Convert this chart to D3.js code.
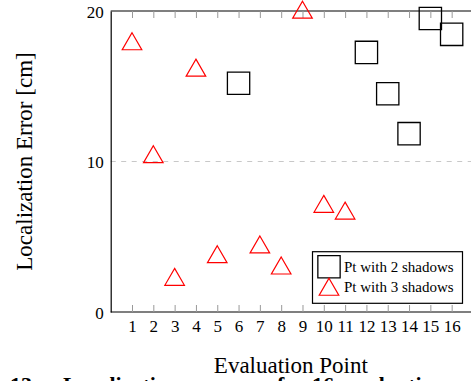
<!DOCTYPE html>
<html>
<head>
<meta charset="utf-8">
<script src="https://cdn.jsdelivr.net/npm/d3@7"></script>
<style>
  body { margin: 0; background: #fff; }
  svg { display: block; font-family: "Liberation Serif", "Times New Roman", serif; }
</style>
</head>
<body>
<div id="chart"></div>
<script>
// evaluation points and their localization errors (cm)
const xTicks = d3.range(1, 17);
const yTicks = [0, 10, 20];
const twoShadowPts = [6, 12, 13, 14, 15, 16];
const twoShadowErr = [15.2, 17.25, 14.5, 11.85, 19.5, 18.45];
const threeShadowPts = [1, 2, 3, 4, 5, 7, 8, 9, 10, 11];
const threeShadowErr = [17.8, 10.3, 2.15, 16.05, 3.65, 4.3, 2.9, 19.9, 7.0, 6.55];
const seriesNames = ['Pt with 2 shadows', 'Pt with 3 shadows'];
const captionWords = ['13:', 'Localization', 'error', 'for', '16', 'evaluation', 'points.'];

const width = 471, height = 381;
const margin = { top: 11, left: 110.7, bottom: 312 };

const svg = d3.select('#chart')
  .append('svg')
  .attr('width', width)
  .attr('height', height);

const x = d3.scaleLinear().domain([0, 17]).range([margin.left, margin.left + 17 * 21.31]);
const y = d3.scaleLinear().domain([0, 20]).range([margin.bottom, margin.top]);

// dashed grid at 10
svg.append('g')
  .selectAll('line')
  .data(yTicks.filter(t => t > 0 && t < 20))
  .enter()
  .append('line')
  .attr('x1', margin.left).attr('x2', width)
  .attr('y1', d => y(d)).attr('y2', d => y(d))
  .style('stroke', '#c8c8c8')
  .style('stroke-width', 1.1)
  .style('stroke-dasharray', '5,5.5');

// bottom axis with inward ticks
const xAxis = svg.append('g')
  .attr('transform', `translate(0,${margin.bottom})`)
  .call(d3.axisBottom(x).tickValues(xTicks).tickSizeInner(-7).tickSizeOuter(0).tickPadding(8));
xAxis.select('.domain').attr('d', `M${margin.left},0H${width}`).style('stroke', '#000').style('stroke-width', 1.2);
xAxis.selectAll('.tick line').style('stroke', '#999');
xAxis.selectAll('.tick text')
  .style('font-family', '"Liberation Serif", serif')
  .style('font-size', '17px')
  .style('fill', '#000');

// top frame with inward ticks
const xTop = svg.append('g')
  .attr('transform', `translate(0,${margin.top})`)
  .call(d3.axisTop(x).tickValues(xTicks).tickSizeInner(-7).tickSizeOuter(0).tickFormat(''));
xTop.select('.domain').attr('d', `M${margin.left},0H${width}`).style('stroke', '#000').style('stroke-width', 1.2);
xTop.selectAll('.tick line').style('stroke', '#999');

// left axis
const yAxis = svg.append('g')
  .attr('transform', `translate(${margin.left},0)`)
  .call(d3.axisLeft(y).tickValues(yTicks).tickSize(0).tickPadding(7));
yAxis.select('.domain').style('stroke', '#000').style('stroke-width', 1.2);
yAxis.selectAll('.tick text')
  .attr('dy', '0.36em')
  .style('font-family', '"Liberation Serif", serif')
  .style('font-size', '17px')
  .style('fill', '#000');

// markers
const squareSize = 22.3 * 22.3;
const triR = 11.3;
const triSize = 3 * Math.sqrt(3) * (triR / 2) * (triR / 2);

svg.append('g')
  .selectAll('path')
  .data(twoShadowPts.map((p, i) => ({ p, v: twoShadowErr[i] })))
  .enter()
  .append('path')
  .attr('d', d3.symbol(d3.symbolSquare, squareSize))
  .attr('transform', d => `translate(${x(d.p)},${y(d.v)})`)
  .style('fill', 'none')
  .style('stroke', '#000')
  .style('stroke-width', 1.3);

svg.append('g')
  .selectAll('path')
  .data(threeShadowPts.map((p, i) => ({ p, v: threeShadowErr[i] })))
  .enter()
  .append('path')
  .attr('d', d3.symbol(d3.symbolTriangle, triSize))
  .attr('transform', d => `translate(${x(d.p)},${y(d.v)})`)
  .style('fill', 'none')
  .style('stroke', '#ff0000')
  .style('stroke-width', 1.2);

// legend
const legend = svg.append('g');
legend.append('rect')
  .attr('x', 312.5).attr('y', 251.7)
  .attr('width', 150).attr('height', 51.6)
  .style('fill', '#fff')
  .style('stroke', '#000')
  .style('stroke-width', 1.2);
legend.append('path')
  .attr('d', d3.symbol(d3.symbolSquare, squareSize))
  .attr('transform', 'translate(329,266.7)')
  .style('fill', 'none').style('stroke', '#000').style('stroke-width', 1.3);
legend.append('path')
  .attr('d', d3.symbol(d3.symbolTriangle, triSize))
  .attr('transform', 'translate(329,289.6)')
  .style('fill', 'none').style('stroke', '#ff0000').style('stroke-width', 1.2);
legend.selectAll('text')
  .data(seriesNames)
  .enter()
  .append('text')
  .attr('x', 344)
  .attr('y', (d, i) => 271.5 + i * 20.8)
  .style('font-size', '15px')
  .text(d => d);

// axis titles
svg.append('text')
  .attr('x', (margin.left + width) / 2)
  .attr('y', 373.3)
  .attr('text-anchor', 'middle')
  .style('font-size', '23px')
  .text('Evaluation Point');

svg.append('text')
  .attr('transform', `translate(32.3,${(margin.top + margin.bottom) / 2}) rotate(-90)`)
  .attr('text-anchor', 'middle')
  .style('font-size', '23px')
  .text('Localization Error [cm]');

// caption, cut off at the bottom edge
const captionX = [10, 63, 196, 277, 312, 347, 470];
svg.append('text')
  .attr('y', 391.5)
  .style('font-size', '22px')
  .style('font-weight', 'bold')
  .selectAll('tspan')
  .data(captionWords)
  .enter()
  .append('tspan')
  .attr('x', (d, i) => captionX[i])
  .text(d => d);
</script>
</body>
</html>
